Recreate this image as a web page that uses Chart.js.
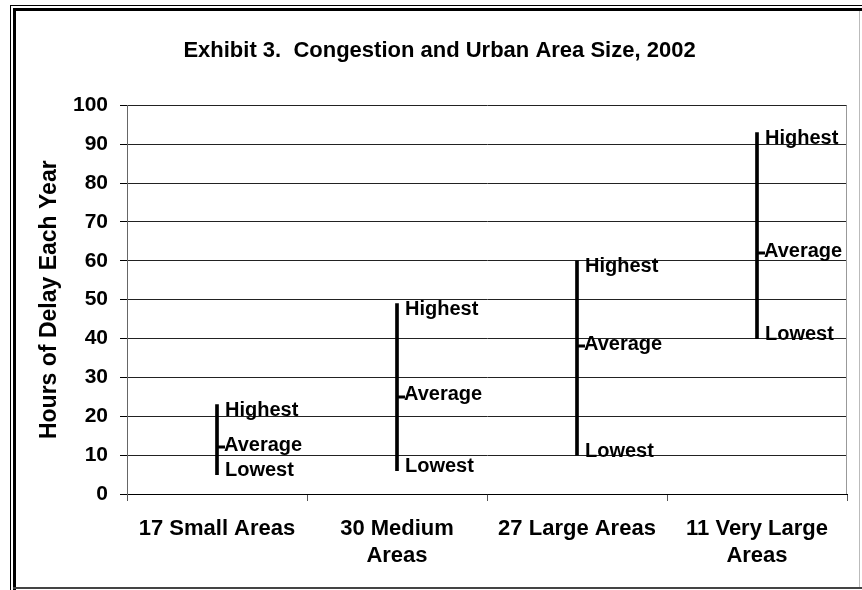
<!DOCTYPE html>
<html>
<head>
<meta charset="utf-8">
<title>Exhibit 3</title>
<script src="https://cdn.jsdelivr.net/npm/chart.js@4"></script>
<style>
  body { margin: 0; background: #fff; }
  canvas { display: block; }
</style>
</head>
<body>
<canvas id="grafica" width="862" height="590"></canvas>
<script>
// Datos
const categorias = [['17 Small Areas'], ['30 Medium', 'Areas'], ['27 Large Areas'], ['11 Very Large', 'Areas']];
const maximos = [23, 49, 60, 93];
const promedios = [12, 25, 38, 62];
const minimos = [5, 6, 10, 40];
const ticksY = [0, 10, 20, 30, 40, 50, 60, 70, 80, 90, 100];

const fuente = "'Liberation Sans', Arial, sans-serif";
Chart.defaults.color = '#000';
Chart.defaults.font.family = fuente;

// marco doble alrededor de la imagen y borde derecho del area del grafico
const marco = {
    id: 'marco',
    beforeDraw(chart) {
        const ctx = chart.ctx;
        ctx.save();
        ctx.fillStyle = '#fff';
        ctx.fillRect(0, 0, chart.width, chart.height);
        ctx.fillStyle = '#000';
        ctx.fillRect(10, 5, 1, chart.height - 5);
        ctx.fillRect(10, 5, chart.width - 10, 1);
        ctx.fillRect(13, 8, 3, chart.height - 8);
        ctx.fillRect(13, 8, chart.width - 13, 3);
        ctx.fillStyle = '#444';
        ctx.fillRect(13, chart.height - 3, chart.width - 13, 2);
        ctx.fillStyle = '#bbb';
        ctx.fillRect(chart.width - 3, 11, 1, chart.height - 14);
        ctx.restore();
    },
    afterDraw(chart) {
        const ctx = chart.ctx;
        const a = chart.chartArea;
        ctx.save();
        ctx.strokeStyle = '#999';
        ctx.lineWidth = 1;
        ctx.beginPath();
        ctx.moveTo(Math.round(a.right) - 0.5, a.top);
        ctx.lineTo(Math.round(a.right) - 0.5, a.bottom);
        ctx.stroke();
        ctx.restore();
    }
};

// marca del promedio y etiquetas Highest / Average / Lowest
const etiquetas = {
    id: 'etiquetas',
    afterDatasetsDraw(chart) {
        const ctx = chart.ctx;
        const y = chart.scales.y;
        const meta = chart.getDatasetMeta(0);
        ctx.save();
        ctx.fillStyle = '#000';
        ctx.font = "bold 20px " + fuente;
        ctx.textAlign = 'left';
        ctx.textBaseline = 'middle';
        meta.data.forEach((bar, i) => {
            const x = bar.x;
            const yAvg = y.getPixelForValue(promedios[i]);
            ctx.fillRect(x + 1, Math.round(yAvg) - 1.5, 7, 3);
            ctx.fillText('Highest', x + 8, y.getPixelForValue(maximos[i]) + 6);
            ctx.fillText('Average', x + 7, yAvg - 2);
            ctx.fillText('Lowest', x + 8, y.getPixelForValue(minimos[i]) - 4);
        });
        ctx.restore();
    }
};

const ctx = document.getElementById('grafica').getContext('2d');
const chart = new Chart(ctx, {
    type: 'bar',
    data: {
        labels: categorias,
        datasets: [{
            label: 'Rango',
            data: minimos.map((m, i) => [m, maximos[i]]),
            backgroundColor: '#000',
            borderWidth: 0,
            barThickness: 3
        }]
    },
    options: {
        responsive: false,
        animation: false,
        layout: { padding: { left: 32, right: 15, top: 0, bottom: 0 } },
        plugins: {
            legend: { display: false },
            tooltip: { enabled: false },
            title: {
                display: true,
                text: 'Exhibit 3.  Congestion and Urban Area Size, 2002',
                font: { size: 22, weight: 'bold' },
                color: '#000',
                padding: { top: 38, bottom: 41 }
            }
        },
        scales: {
            x: {
                grid: {
                    offset: true,
                    drawOnChartArea: false,
                    drawTicks: true,
                    tickLength: 7,
                    tickColor: '#555'
                },
                border: { color: '#000' },
                ticks: {
                    font: { size: 22, weight: 'bold', lineHeight: 1.2 },
                    padding: 15,
                    maxRotation: 0,
                    autoSkip: false
                },
                afterFit(scale) { scale.height = 96; }
            },
            y: {
                min: 0,
                max: 100,
                afterBuildTicks(scale) { scale.ticks = ticksY.map(v => ({ value: v })); },
                grid: {
                    color: '#222',
                    tickColor: '#000',
                    tickLength: 7
                },
                border: { color: '#666' },
                ticks: {
                    font: { size: 21, weight: 'bold' },
                    padding: 12
                },
                title: {
                    display: true,
                    text: 'Hours of Delay Each Year',
                    font: { size: 23, weight: 'bold' },
                    color: '#000',
                    padding: { top: 4, bottom: 0 }
                },
                afterFit(scale) { scale.width = 95; }
            }
        }
    },
    plugins: [marco, etiquetas]
});
</script>
</body>
</html>
